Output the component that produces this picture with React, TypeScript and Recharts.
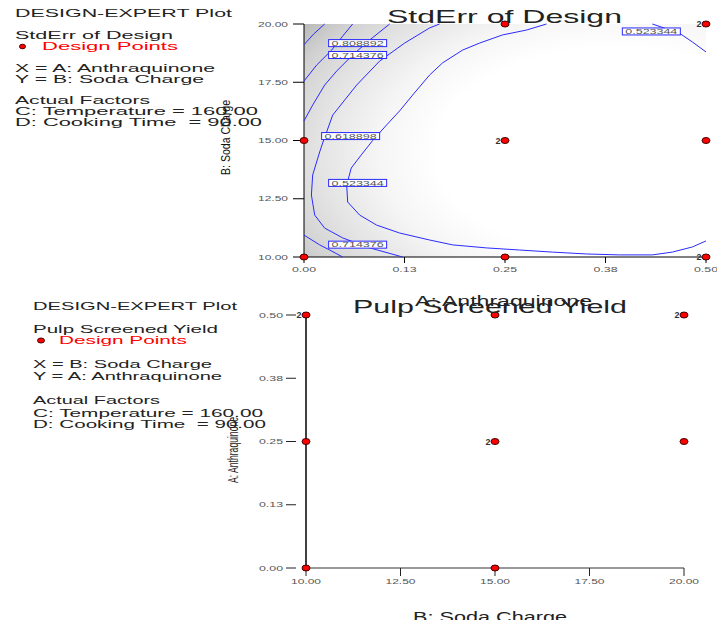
import React from "react";
import { ComposedChart, Scatter, XAxis, YAxis, ReferenceArea } from "recharts";

const FONT = "'Liberation Sans', Arial, sans-serif";

const aTicks = [0, 0.125, 0.25, 0.375, 0.5];
const aTickLabels = ["0.00", "0.13", "0.25", "0.38", "0.50"];
const bTicks = [10, 12.5, 15, 17.5, 20];
const bTickLabels = ["10.00", "12.50", "15.00", "17.50", "20.00"];

// design runs: A = anthraquinone, B = soda charge, reps = replicates
const designA = [0.25, 0.5, 0, 0.25, 0.5, 0, 0.25, 0.5];
const designB = [20, 20, 15, 15, 15, 10, 10, 10];
const designReps = [1, 2, 1, 2, 1, 1, 1, 2];

// contour lines of StdErr, [A, B] pairs
const contourCorner = [[0, 19.11], [0.012, 19.57], [0.0257, 20]];
const contour808 = [[0, 17.55], [0.0158, 18.24], [0.0344, 18.88], [0.0481, 19.48], [0.0605, 20]];
const contour714 = [[0, 15.84], [0.0108, 16.52], [0.0257, 17.38], [0.0406, 17.98], [0.0605, 18.67], [0.0816, 19.31], [0.1065, 20]];
const contour619 = [
  [0.1686, 20], [0.1562, 19.83], [0.1251, 19.18], [0.0941, 18.41], [0.0655, 17.38], [0.0357, 16.09],
  [0.0232, 14.89], [0.0195, 14.51], [0.0108, 13.52], [0.0092, 12.66], [0.0133, 11.8], [0.0257, 11.24],
  [0.0481, 10.82], [0.0779, 10.43], [0.1226, 10],
];
const contour523 = [
  [0.3016, 20], [0.2767, 19.74], [0.2469, 19.53], [0.2183, 19.18], [0.1972, 18.88], [0.1723, 18.33],
  [0.1562, 17.81], [0.1351, 16.95], [0.1189, 16.27], [0.1028, 15.67], [0.0854, 15.0], [0.0712, 14.38],
  [0.0588, 13.82], [0.0531, 13.09], [0.0543, 12.36], [0.0692, 11.8], [0.0903, 11.37], [0.1189, 11.03],
  [0.1562, 10.73], [0.1848, 10.52], [0.227, 10.39], [0.268, 10.3], [0.309, 10.21], [0.3513, 10.13],
  [0.3923, 10.09], [0.4333, 10.09], [0.4581, 10.21], [0.483, 10.43], [0.5, 10.69],
];
const contour714Low = [[0, 10.94], [0.0195, 10.52], [0.0319, 10.3], [0.0481, 10]];
const contour523Top = [[0.4333, 20], [0.4668, 19.61], [0.483, 19.23], [0.5, 18.8]];

const contourLines = [contourCorner, contour808, contour714, contour619, contour523, contour714Low, contour523Top];

const contourLabels = ["0.808892", "0.714376", "0.618898", "0.523344", "0.714376", "0.523344"];
const contourLabelA = [0.0667, 0.0667, 0.058, 0.0667, 0.0667, 0.432];
const contourLabelB = [19.18, 18.67, 15.19, 13.18, 10.53, 19.68];

const designData = designA.map((a, i) => ({ a, b: designB[i], reps: designReps[i] }));
const labelData = contourLabels.map((t, i) => ({ a: contourLabelA[i], b: contourLabelB[i], t }));
const lineData = contourLines.map((pts) => pts.map(([a, b]) => ({ a, b })));

const makeTick = (ticks: number[], labels: string[], side: "left" | "bottom", gapLine?: boolean) => (props: any) => {
  const { x, y, payload } = props;
  const i = ticks.indexOf(payload.value);
  const label = i >= 0 ? labels[i] : "";
  return (
    <g>
      {gapLine && <line x1={x + 3} x2={x + 13} y1={y} y2={y} stroke="#222" strokeWidth={1} />}
      <text
        x={x}
        y={side === "left" ? y + 2.5 : y + 5}
        textAnchor={side === "left" ? "end" : "middle"}
        fontSize={7}
        fill="#555"
        fontFamily={FONT}
        textLength={label.length * 6}
        lengthAdjust="spacingAndGlyphs"
      >
        {label}
      </text>
    </g>
  );
};

const DesignPoint = (props: any) => {
  const { cx, cy, payload } = props;
  return (
    <g>
      {payload.reps > 1 && (
        <text x={cx - 4.5} y={cy + 3.2} textAnchor="end" fontSize={9} fontWeight="bold" fill="#333" fontFamily={FONT}>
          {payload.reps}
        </text>
      )}
      <ellipse cx={cx} cy={cy} rx={4} ry={3} fill="#ff0000" stroke="#400" strokeWidth={1} />
    </g>
  );
};

const ContourLabel = (props: any) => {
  const { cx, cy, payload } = props;
  return (
    <g>
      <rect x={cx - 29} y={cy - 3.5} width={58} height={7} fill="#fff" stroke="#2828ff" strokeWidth={1} />
      <text x={cx} y={cy + 2.6} textAnchor="middle" fontSize={7.5} fill="#555" fontFamily={FONT} textLength={52} lengthAdjust="spacingAndGlyphs">
        {payload.t}
      </text>
    </g>
  );
};

const NoDot = () => <g />;

const texts = [
  { t: "DESIGN-EXPERT Plot", x: 15, y: 17, w: 217 },
  { t: "StdErr of Design", x: 15, y: 39, w: 158 },
  { t: "Design Points", x: 42, y: 50, w: 136, red: true },
  { t: "X = A: Anthraquinone", x: 15, y: 71.5, w: 200 },
  { t: "Y = B: Soda Charge", x: 15, y: 82.5, w: 189 },
  { t: "Actual Factors", x: 15, y: 104, w: 135 },
  { t: "C: Temperature = 160.00", x: 15, y: 115, w: 243 },
  { t: "D: Cooking Time  = 90.00", x: 15, y: 126, w: 247 },
  { t: "DESIGN-EXPERT Plot", x: 33, y: 310, w: 204 },
  { t: "Pulp Screened Yield", x: 33, y: 333, w: 185 },
  { t: "Design Points", x: 59, y: 344, w: 128, red: true },
  { t: "X = B: Soda Charge", x: 33, y: 368, w: 179 },
  { t: "Y = A: Anthraquinone", x: 33, y: 380, w: 189 },
  { t: "Actual Factors", x: 33, y: 404, w: 127 },
  { t: "C: Temperature = 160.00", x: 33, y: 416.5, w: 230 },
  { t: "D: Cooking Time  = 90.00", x: 33, y: 427.5, w: 233 },
];

export default function App() {
  return (
    <div style={{ position: "absolute", left: 0, top: 0, width: 717, height: 620, background: "#fff", overflow: "hidden" }}>
      <svg width={0} height={0} style={{ position: "absolute" }}>
        <defs>
          <radialGradient id="seShade" cx="0.78" cy="0.55" r="1">
            <stop offset="0" stopColor="#ffffff" />
            <stop offset="0.45" stopColor="#ffffff" />
            <stop offset="0.6" stopColor="#f5f5f5" />
            <stop offset="0.74" stopColor="#e4e4e4" />
            <stop offset="0.86" stopColor="#d2d2d2" />
            <stop offset="0.94" stopColor="#bdbdbd" />
            <stop offset="1" stopColor="#acacac" />
          </radialGradient>
        </defs>
      </svg>

      <div style={{ position: "absolute", left: 0, top: 0 }}>
        <ComposedChart width={717} height={290} margin={{ top: 24, right: 11, bottom: 0, left: 0 }}>
          <XAxis
            type="number"
            dataKey="a"
            domain={[0, 0.5]}
            ticks={aTicks}
            interval={0}
            height={33}
            tickSize={6}
            tickMargin={4}
            tick={makeTick(aTicks, aTickLabels, "bottom")}
            axisLine={{ stroke: "#000" }}
            tickLine={{ stroke: "#000" }}
          />
          <YAxis
            type="number"
            dataKey="b"
            domain={[10, 20]}
            ticks={bTicks}
            interval={0}
            width={304}
            tickSize={11}
            tickMargin={5}
            tick={makeTick(bTicks, bTickLabels, "left")}
            axisLine={{ stroke: "#000" }}
            tickLine={{ stroke: "#000" }}
          />
          <XAxis xAxisId="top" orientation="top" type="number" domain={[0, 0.5]} height={0} tick={false} tickLine={false} axisLine={{ stroke: "#000" }} />
          <YAxis yAxisId="right" orientation="right" type="number" domain={[10, 20]} width={0} tick={false} tickLine={false} axisLine={{ stroke: "#000" }} />
          <ReferenceArea x1={0} x2={0.5} y1={10} y2={20} fill="url(#seShade)" fillOpacity={1} stroke="none" />
          {lineData.map((d, i) => (
            <Scatter
              key={i}
              data={d}
              line={{ stroke: "#2b2bff", strokeWidth: 1 }}
              lineType="joint"
              shape={NoDot}
              isAnimationActive={false}
            />
          ))}
          <Scatter data={labelData} shape={ContourLabel} isAnimationActive={false} />
          <Scatter data={designData} shape={DesignPoint} isAnimationActive={false} />
        </ComposedChart>
      </div>

      <div style={{ position: "absolute", left: 0, top: 290 }}>
        <ComposedChart width={717} height={330} margin={{ top: 25, right: 33, bottom: 0, left: 0 }}>
          <XAxis
            type="number"
            dataKey="b"
            domain={[10, 20]}
            ticks={bTicks}
            interval={0}
            height={52}
            tickSize={8}
            tickMargin={3}
            tick={makeTick(bTicks, bTickLabels, "bottom")}
            axisLine={{ stroke: "#999", strokeWidth: 2 }}
            tickLine={{ stroke: "#222" }}
          />
          <YAxis
            type="number"
            dataKey="a"
            domain={[0, 0.5]}
            ticks={aTicks}
            interval={0}
            width={306}
            tickSize={20}
            tickMargin={3}
            tick={makeTick(aTicks, aTickLabels, "left", true)}
            axisLine={{ stroke: "#000", strokeWidth: 1.5 }}
            tickLine={false}
          />
          <XAxis xAxisId="top" orientation="top" type="number" domain={[10, 20]} height={0} tick={false} tickLine={false} axisLine={{ stroke: "#999", strokeWidth: 2 }} />
          <YAxis yAxisId="right" orientation="right" type="number" domain={[0, 0.5]} width={0} tick={false} tickLine={false} axisLine={{ stroke: "#000", strokeWidth: 1.5 }} />
          <Scatter data={designData} shape={DesignPoint} isAnimationActive={false} />
        </ComposedChart>
      </div>

      <svg width={717} height={620} style={{ position: "absolute", left: 0, top: 0, pointerEvents: "none" }}>
        {texts.map((d, i) => (
          <text key={i} x={d.x} y={d.y} fontSize={11} fill={d.red ? "#ff0000" : "#222"} fontFamily={FONT} textLength={d.w} lengthAdjust="spacingAndGlyphs" style={{ whiteSpace: "pre" }}>
            {d.t}
          </text>
        ))}
        <ellipse cx={22.5} cy={46.5} rx={3} ry={2.3} fill="#ff0000" stroke="#400" strokeWidth={1} />
        <ellipse cx={41} cy={340.5} rx={3.5} ry={2.5} fill="#ff0000" stroke="#400" strokeWidth={1} />

        <text x={230} y={137.5} transform="rotate(-90 230 137.5)" textAnchor="middle" fontSize={12} fill="#111" fontFamily={FONT} textLength={75} lengthAdjust="spacingAndGlyphs">
          B: Soda Charge
        </text>
        <text x={238} y={450} transform="rotate(-90 238 450)" textAnchor="middle" fontSize={15} fill="#222" fontFamily={FONT} textLength={66} lengthAdjust="spacingAndGlyphs">
          A: Anthraquinone
        </text>

        <text x={503.5} y={306} textAnchor="middle" fontSize={14} fill="#222" fontFamily={FONT} textLength={177} lengthAdjust="spacingAndGlyphs">
          A: Anthraquinone
        </text>
        <text x={504.5} y={23} textAnchor="middle" fontSize={19} fill="#222" fontFamily={FONT} textLength={235} lengthAdjust="spacingAndGlyphs">
          StdErr of Design
        </text>
        <text x={490} y={312.5} textAnchor="middle" fontSize={19} fill="#222" fontFamily={FONT} textLength={274} lengthAdjust="spacingAndGlyphs">
          Pulp Screened Yield
        </text>
        <text x={490} y={621.5} textAnchor="middle" fontSize={14} fill="#222" fontFamily={FONT} textLength={154} lengthAdjust="spacingAndGlyphs">
          B: Soda Charge
        </text>
      </svg>
    </div>
  );
}
